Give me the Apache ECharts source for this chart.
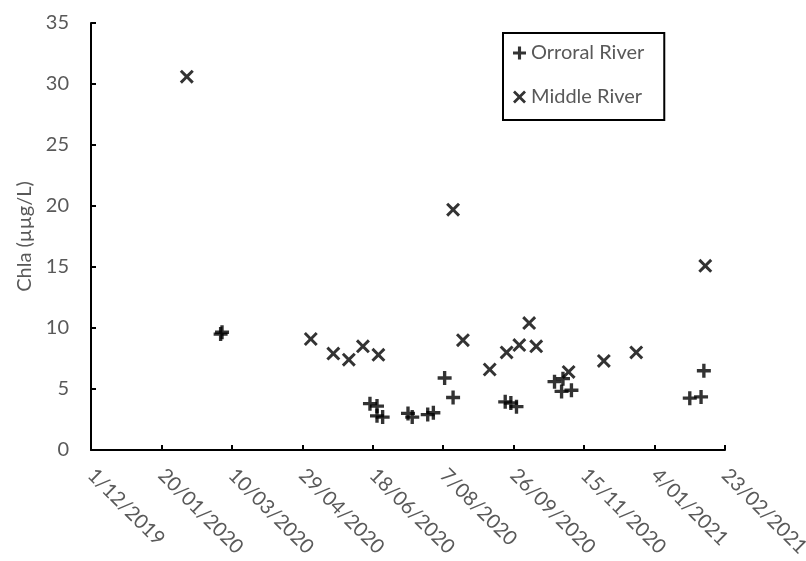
<!DOCTYPE html>
<html>
<head>
<meta charset="utf-8">
<script src="https://cdn.jsdelivr.net/npm/echarts@6/dist/echarts.min.js"></script>
<style>
  html, body { margin: 0; padding: 0; background: #fff; }
  #chart { width: 806px; height: 561px; }
</style>
</head>
<body>
<div id="chart"></div>
<script>
// ── Данные ───────────────────────────────────────────────────────────────────
var orroralDates = [
  '2020-03-02', '2020-03-03', '2020-06-16', '2020-06-21', '2020-06-21', '2020-06-25',
  '2020-07-13', '2020-07-16', '2020-07-27', '2020-07-31', '2020-08-08', '2020-08-14',
  '2020-09-20', '2020-09-24', '2020-09-28', '2020-10-25', '2020-10-31', '2020-10-30',
  '2020-11-06', '2021-01-29', '2021-02-06', '2021-02-08'
];
var orroralChla = [
  9.5, 9.65, 3.8, 3.6, 2.8, 2.7,
  3.0, 2.7, 2.9, 3.05, 5.9, 4.3,
  3.95, 3.85, 3.55, 5.6, 5.85, 4.8,
  4.9, 4.25, 4.35, 6.5
];

var middleDates = [
  '2020-02-07', '2020-05-05', '2020-05-21', '2020-06-01', '2020-06-11', '2020-06-22',
  '2020-08-14', '2020-08-21', '2020-09-09', '2020-09-21', '2020-09-30', '2020-10-07',
  '2020-10-12', '2020-11-04', '2020-11-29', '2020-12-22', '2021-02-09'
];
var middleChla = [
  30.6, 9.1, 7.9, 7.4, 8.5, 7.8,
  19.7, 9.0, 6.6, 8.0, 8.6, 10.4,
  8.5, 6.4, 7.3, 8.0, 15.1
];

var seriesNames = ['Orroral River', 'Middle River'];
var xStartDate = '2019-12-01';
var xTickDays = 50;
var xTickCount = 9;
var yTicks = [0, 5, 10, 15, 20, 25, 30, 35];

// ── Вспомогательные функции ─────────────────────────────────────────────────
var DAY = 86400000;
function _ts(s) {
  var p = s.split('-');
  return Date.UTC(+p[0], +p[1] - 1, +p[2]);
}
function _fmtDate(v) {
  var d = new Date(v);
  var mm = d.getUTCMonth() + 1;
  return d.getUTCDate() + '/' + (mm < 10 ? '0' + mm : mm) + '/' + d.getUTCFullYear();
}
function _pairs(dates, vals) {
  return dates.map(function (d, i) { return [_ts(d), vals[i]]; });
}

// маркеры «+» и «×» как залитые контуры
var PLUS  = 'path://M3.8,0H6.2V3.8H10V6.2H6.2V10H3.8V6.2H0V3.8H3.8Z';
var CROSS = 'path://M0,1.5L1.5,0L5,3.5L8.5,0L10,1.5L6.5,5L10,8.5L8.5,10L5,6.5L1.5,10L0,8.5L3.5,5Z';

var xMin = _ts(xStartDate);
var xMax = xMin + xTickDays * xTickCount * DAY;
var TEXT = '#595959';
var FONT = 'Lato';
var FS = 20;

var chart = echarts.init(document.getElementById('chart'));

chart.setOption({
  backgroundColor: '#fff',
  animation: false,
  grid: { left: 91, right: 81, top: 23, bottom: 111, outerBoundsMode: 'none', containLabel: false },
  legend: {
    orient: 'vertical',
    left: 503,
    top: 33,
    padding: [10, 20, 13, 10],
    itemGap: 24,
    itemWidth: 13,
    itemHeight: 13,
    borderColor: '#000',
    borderWidth: 2,
    textStyle: { color: TEXT, fontSize: FS, fontFamily: FONT },
    data: seriesNames
  },
  xAxis: {
    type: 'value',
    min: xMin,
    max: xMax,
    interval: xTickDays * DAY,
    splitLine: { show: false },
    axisLine: { lineStyle: { color: '#000', width: 2 } },
    axisTick: { inside: true, length: 5, lineStyle: { color: '#000', width: 2 } },
    axisLabel: {
      rotate: -45,
      margin: 22,
      color: TEXT,
      fontSize: FS,
      fontFamily: FONT,
      formatter: _fmtDate
    }
  },
  yAxis: {
    type: 'value',
    min: yTicks[0],
    max: yTicks[yTicks.length - 1],
    interval: yTicks[1] - yTicks[0],
    name: 'Chla (µµg/L)',
    nameLocation: 'middle',
    nameGap: 54,
    nameTextStyle: { color: TEXT, fontSize: FS, fontFamily: FONT },
    splitLine: { show: false },
    axisLine: { show: true, lineStyle: { color: '#000', width: 2 } },
    axisTick: { show: true, inside: true, length: 5, lineStyle: { color: '#000', width: 2 } },
    axisLabel: { margin: 22, color: TEXT, fontSize: FS, fontFamily: FONT }
  },
  series: [
    {
      name: seriesNames[0],
      type: 'scatter',
      symbol: PLUS,
      symbolSize: 14,
      itemStyle: { color: '#000' },
      data: _pairs(orroralDates, orroralChla)
    },
    {
      name: seriesNames[1],
      type: 'scatter',
      symbol: CROSS,
      symbolSize: 14,
      itemStyle: { color: '#000' },
      data: _pairs(middleDates, middleChla)
    }
  ]
});
</script>
</body>
</html>
